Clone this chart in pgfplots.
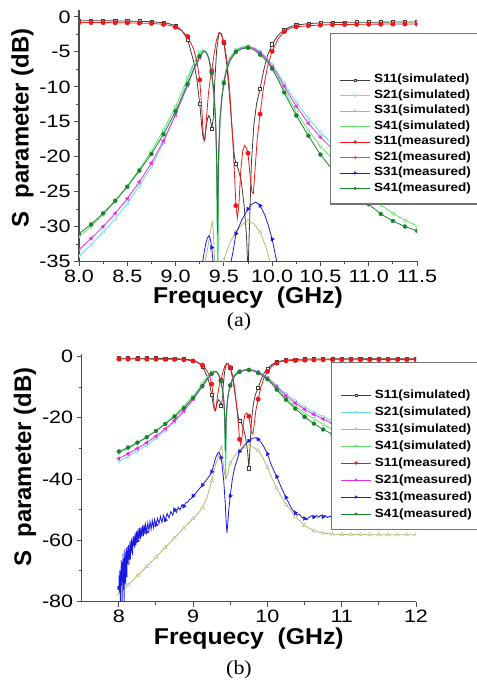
\documentclass[border=0pt]{standalone}
\usepackage{fontspec}
\setmainfont{Liberation Sans}
\newfontfamily\tickff{Liberation Sans}[FakeStretch=1.2]
\newfontfamily\labff{Liberation Sans}[FakeStretch=1.08]
\newfontfamily\legff{Liberation Sans}[FakeStretch=1.13]
\newfontfamily\capff{Liberation Serif}[FakeStretch=1.1]
\usepackage{pgfplots}
\usepackage{pgfplotstable}
\pgfplotsset{compat=1.18}

\definecolor{cAs}{RGB}{60,60,60}
\definecolor{cBs}{RGB}{100,220,235}
\definecolor{cCs}{RGB}{185,180,115}
\definecolor{cDs}{RGB}{95,225,105}
\definecolor{cAm}{RGB}{235,25,25}
\definecolor{cBm}{RGB}{230,45,230}
\definecolor{cCm}{RGB}{25,25,230}
\definecolor{cDm}{RGB}{25,130,45}

% S11 simulated
\pgfplotstableread{
x y m
8.000 -0.55 1
8.125 -0.55 1
8.250 -0.55 1
8.375 -0.56 1
8.500 -0.58 1
8.625 -0.62 1
8.750 -0.68 1
8.875 -0.82 1
8.9375 -0.98 0
9.000 -1.25 1
9.0625 -1.90 0
9.125 -3.20 1
9.1875 -6.4 0
9.220 -8.9 0
9.250 -12.4 1
9.270 -15.5 0
9.285 -17.3 0
9.300 -17.5 0
9.315 -16.0 0
9.330 -14.6 0
9.345 -14.1 0
9.360 -14.6 0
9.375 -16.0 1
9.390 -14.5 0
9.405 -9.5 0
9.425 -4.8 0
9.450 -2.2 0
9.475 -2.4 0
9.500 -3.7 1
9.530 -6.8 0
9.560 -11.5 0
9.590 -17.0 0
9.610 -20.0 0
9.625 -21.0 1
9.650 -21.8 0
9.680 -23.5 0
9.710 -27.0 0
9.735 -31.5 0
9.750 -36.5 1
9.765 -30.0 0
9.785 -21.0 0
9.810 -15.5 0
9.840 -12.3 0
9.875 -10.3 1
9.910 -7.8 0
9.950 -5.6 0
10.000 -3.9 1
10.0625 -2.6 0
10.125 -1.85 1
10.1875 -1.40 0
10.250 -1.15 1
10.375 -0.95 1
10.500 -0.85 1
10.625 -0.80 1
10.750 -0.77 1
10.875 -0.76 1
11.000 -0.75 1
11.125 -0.74 1
11.250 -0.73 1
11.375 -0.73 1
11.500 -0.72 1
11.625 -0.72 1
11.750 -0.72 1
11.875 -0.72 1
12.000 -0.72 1
}\tAs

% S21 simulated
\pgfplotstableread{
x y m
8.000 -34.2 1
8.125 -32.6 1
8.250 -30.8 1
8.375 -28.9 1
8.500 -26.7 1
8.625 -24.2 1
8.750 -21.4 1
8.875 -18.0 1
9.000 -13.8 1
9.0625 -11.4 0
9.125 -9.0 1
9.1875 -6.8 0
9.250 -5.2 1
9.280 -4.8 0
9.310 -4.9 0
9.340 -5.7 0
9.375 -8.2 1
9.400 -11.8 0
9.415 -16 0
9.425 -21 0
9.437 -40 0
9.447 -21 0
9.460 -15 0
9.480 -11.5 0
9.500 -9.2 1
9.530 -7.0 0
9.5625 -5.8 0
9.625 -4.7 1
9.6875 -4.3 0
9.750 -4.2 1
9.8125 -4.4 0
9.875 -4.9 1
9.9375 -5.7 0
10.000 -6.8 1
10.0625 -8.1 0
10.125 -9.5 1
10.1875 -10.9 0
10.250 -12.2 1
10.375 -14.5 1
10.500 -16.5 1
10.625 -18.2 1
10.750 -19.7 1
10.875 -21.0 1
11.000 -22.2 1
11.125 -23.2 1
11.250 -24.1 1
11.375 -24.9 1
11.500 -25.6 1
11.625 -26.2 1
11.750 -26.8 1
11.875 -27.3 1
12.000 -27.8 1
}\tBs

% S31 simulated
\pgfplotstableread{
x y m
8.000 -77.5 1
8.125 -74.6 1
8.250 -71.6 1
8.375 -68.6 1
8.500 -65.5 1
8.625 -62.4 1
8.750 -59.2 1
8.875 -56.0 1
9.000 -52.9 1
9.0625 -51.4 0
9.125 -49.4 1
9.1875 -46.0 0
9.250 -40.5 1
9.300 -35.5 0
9.340 -32.5 0
9.365 -30.3 0
9.380 -29.3 0
9.390 -30.5 0
9.405 -35.0 0
9.425 -38.5 0
9.445 -39.8 0
9.465 -38.5 0
9.490 -35.5 0
9.500 -34.8 1
9.5625 -32.3 0
9.625 -30.8 1
9.6875 -29.7 0
9.750 -29.2 1
9.8125 -29.6 0
9.875 -30.8 1
9.9375 -33.0 0
10.000 -36.2 1
10.0625 -39.7 0
10.125 -43.0 1
10.1875 -45.8 0
10.250 -48.3 1
10.375 -52.2 1
10.500 -55.2 1
10.625 -56.9 1
10.750 -57.7 1
10.875 -58.0 1
11.000 -58.1 1
11.125 -58.1 1
11.250 -58.1 1
11.375 -58.2 1
11.500 -58.2 1
11.625 -58.2 1
11.750 -58.2 1
11.875 -58.2 1
12.000 -58.2 1
}\tCs

% S41 simulated
\pgfplotstableread{
x y m
8.000 -31.4 1
8.125 -30.0 1
8.250 -28.3 1
8.375 -26.4 1
8.500 -24.2 1
8.625 -21.8 1
8.750 -19.2 1
8.875 -16.2 1
9.000 -12.8 1
9.0625 -10.8 0
9.125 -8.7 1
9.1875 -6.6 0
9.250 -5.0 1
9.280 -4.7 0
9.310 -4.85 0
9.340 -5.6 0
9.375 -8.4 1
9.400 -12.0 0
9.415 -16 0
9.425 -21 0
9.437 -40 0
9.447 -21 0
9.460 -15 0
9.480 -11.5 0
9.500 -9.2 1
9.530 -7.0 0
9.5625 -5.8 0
9.625 -4.7 1
9.6875 -4.3 0
9.750 -4.2 1
9.8125 -4.5 0
9.875 -5.2 1
9.9375 -6.1 0
10.000 -7.3 1
10.0625 -8.8 0
10.125 -10.4 1
10.1875 -12.0 0
10.250 -13.6 1
10.375 -16.2 1
10.500 -18.5 1
10.625 -20.3 1
10.750 -22.1 1
10.875 -23.8 1
11.000 -25.4 1
11.125 -26.9 1
11.250 -28.1 1
11.375 -29.1 1
11.500 -29.9 1
11.625 -30.5 1
11.750 -31.0 1
11.875 -31.4 1
12.000 -31.8 1
}\tDs

% S11 measured
\pgfplotstableread{
x y m
8.000 -0.80 1
8.125 -0.80 1
8.250 -0.80 1
8.375 -0.82 1
8.500 -0.84 1
8.625 -0.87 1
8.750 -0.92 1
8.875 -1.05 1
8.9375 -1.20 0
9.000 -1.45 1
9.0625 -1.95 0
9.125 -2.80 1
9.1875 -4.60 0
9.220 -6.30 0
9.250 -9.00 1
9.270 -12.8 0
9.285 -16.5 0
9.295 -17.8 0
9.305 -17.5 0
9.320 -14.5 0
9.340 -11.0 0
9.360 -8.8 0
9.375 -7.7 1
9.400 -5.2 0
9.425 -3.2 0
9.450 -2.3 0
9.470 -2.4 0
9.500 -3.6 1
9.530 -6.0 0
9.560 -10.5 0
9.590 -17.0 0
9.610 -22.5 0
9.625 -27.0 1
9.640 -28.8 0
9.655 -27.0 0
9.675 -22.0 0
9.695 -19.2 0
9.715 -18.4 0
9.735 -18.8 0
9.750 -19.5 1
9.770 -22.5 0
9.790 -25.0 0
9.805 -25.3 0
9.820 -22.5 0
9.845 -17.5 0
9.875 -13.9 1
9.910 -10.2 0
9.950 -7.2 0
10.000 -4.9 1
10.0625 -3.1 0
10.125 -2.1 1
10.1875 -1.6 0
10.250 -1.40 1
10.375 -1.25 1
10.500 -1.15 1
10.625 -1.10 1
10.750 -1.07 1
10.875 -1.05 1
11.000 -1.03 1
11.125 -1.02 1
11.250 -1.01 1
11.375 -1.00 1
11.500 -1.00 1
11.625 -1.00 1
11.750 -1.00 1
11.875 -1.00 1
12.000 -1.00 1
}\tAm

% S21 measured
\pgfplotstableread{
x y m
8.000 -33.3 1
8.125 -31.7 1
8.250 -30.0 1
8.375 -28.1 1
8.500 -26.0 1
8.625 -23.6 1
8.750 -20.9 1
8.875 -17.7 1
9.000 -14.0 1
9.0625 -11.9 0
9.125 -9.8 1
9.1875 -7.6 0
9.250 -5.8 1
9.280 -5.1 0
9.300 -4.95 0
9.320 -5.1 0
9.345 -6.0 0
9.375 -7.9 1
9.400 -11.0 0
9.415 -14.5 0
9.425 -19.0 0
9.435 -28.0 0
9.445 -19.5 0
9.460 -14.5 0
9.480 -11.3 0
9.500 -9.3 1
9.530 -7.4 0
9.5625 -6.1 0
9.625 -4.9 1
9.6875 -4.45 0
9.750 -4.3 1
9.8125 -4.5 0
9.875 -5.1 1
9.9375 -5.9 0
10.000 -7.1 1
10.0625 -8.4 0
10.125 -9.9 1
10.1875 -11.4 0
10.250 -12.8 1
10.375 -15.2 1
10.500 -17.2 1
10.625 -18.9 1
10.750 -20.4 1
10.875 -21.8 1
11.000 -23.0 1
11.125 -24.0 1
11.250 -24.9 1
11.375 -25.7 1
11.500 -26.4 1
11.625 -27.0 1
11.750 -27.6 1
11.875 -28.1 1
12.000 -28.6 1
}\tBm

% S31 measured
\pgfplotstableread{
x y m
8.000 -75.6 1
8.004 -71.5 0
8.008 -77.0 0
8.012 -69.8 0
8.016 -73.5 0
8.020 -81.0 0
8.024 -70.2 0
8.028 -74.8 0
8.032 -66.5 0
8.036 -72.0 0
8.040 -68.3 0
8.044 -81.0 0
8.048 -67.0 0
8.052 -73.8 0
8.056 -64.2 0
8.060 -70.5 0
8.064 -76.0 0
8.068 -66.0 0
8.072 -81.0 0
8.076 -68.5 0
8.080 -63.0 0
8.084 -71.0 0
8.088 -65.5 0
8.092 -74.5 0
8.096 -63.8 0
8.100 -69.0 0
8.104 -62.5 0
8.108 -72.0 0
8.112 -64.0 0
8.116 -67.8 0
8.120 -62.0 0
8.125 -66.0 1
8.130 -61.5 0
8.135 -68.0 0
8.140 -62.8 0
8.145 -65.5 0
8.150 -60.2 0
8.155 -66.2 0
8.160 -61.0 0
8.165 -64.0 0
8.170 -59.5 0
8.175 -63.5 0
8.180 -60.5 0
8.185 -64.8 0
8.190 -59.0 0
8.195 -62.0 0
8.200 -58.6 0
8.205 -61.8 0
8.210 -59.2 0
8.215 -62.5 0
8.220 -57.5 0
8.230 -61.5 0
8.240 -57.0 0
8.250 -60.2 1
8.260 -56.2 0
8.270 -59.8 0
8.280 -56.0 0
8.290 -59.5 0
8.300 -55.8 0
8.310 -58.8 0
8.320 -55.2 0
8.330 -58.6 0
8.340 -54.9 0
8.350 -58.0 0
8.360 -54.8 0
8.375 -57.3 1
8.390 -54.3 0
8.405 -56.9 0
8.420 -53.8 0
8.435 -56.4 0
8.450 -53.6 0
8.465 -55.9 0
8.480 -53.2 0
8.500 -55.0 1
8.520 -52.8 0
8.540 -54.6 0
8.560 -52.2 0
8.580 -54.2 0
8.600 -51.8 0
8.625 -53.4 1
8.650 -51.2 0
8.675 -52.7 0
8.700 -50.6 0
8.725 -51.8 0
8.750 -50.0 1
8.775 -50.9 0
8.800 -49.2 0
8.825 -50.0 0
8.850 -48.4 0
8.875 -48.9 1
8.900 -47.8 0
8.925 -47.6 0
8.950 -46.7 0
8.975 -46.4 0
9.000 -45.5 1
9.025 -44.9 0
9.050 -44.2 0
9.075 -43.4 0
9.100 -42.7 0
9.125 -42.0 1
9.150 -41.2 0
9.175 -40.4 0
9.200 -39.6 0
9.225 -38.8 0
9.250 -37.6 1
9.270 -36.0 0
9.290 -34.2 0
9.310 -32.6 0
9.330 -31.6 0
9.346 -31.3 0
9.360 -31.8 0
9.375 -33.0 1
9.390 -35.5 0
9.410 -40.0 0
9.430 -47.0 0
9.445 -54.0 0
9.455 -57.6 0
9.465 -55.0 0
9.480 -50.0 0
9.500 -45.5 1
9.525 -40.5 0
9.550 -37.3 0
9.575 -35.0 0
9.600 -33.2 0
9.625 -31.0 1
9.6875 -29.0 0
9.750 -27.5 1
9.790 -26.8 0
9.830 -26.5 0
9.875 -27.0 1
9.920 -28.2 0
9.960 -29.8 0
10.000 -31.8 1
10.040 -34.5 0
10.0625 -36.0 0
10.125 -39.2 1
10.1875 -42.8 0
10.250 -46.0 1
10.300 -48.5 0
10.340 -50.2 0
10.375 -51.0 1
10.400 -51.8 0
10.430 -51.5 0
10.460 -52.4 0
10.500 -52.9 1
10.530 -53.3 0
10.560 -52.5 0
10.590 -52.0 0
10.625 -52.4 1
10.660 -51.9 0
10.690 -52.5 0
10.720 -51.8 0
10.750 -52.3 1
10.780 -51.9 0
10.810 -52.6 0
10.840 -52.1 0
10.875 -52.6 1
10.910 -52.2 0
10.940 -52.8 0
11.000 -52.4 1
11.125 -52.6 1
11.250 -52.3 1
11.375 -52.7 1
11.500 -52.5 1
11.625 -52.8 1
11.750 -52.5 1
11.875 -52.9 1
12.000 -52.6 1
}\tCm

% S41 measured
\pgfplotstableread{
x y m
8.000 -31.0 1
8.125 -29.7 1
8.250 -28.1 1
8.375 -26.3 1
8.500 -24.3 1
8.625 -22.0 1
8.750 -19.6 1
8.875 -16.8 1
9.000 -13.5 1
9.0625 -11.6 0
9.125 -9.6 1
9.1875 -7.4 0
9.250 -5.6 1
9.280 -5.0 0
9.300 -4.9 0
9.320 -5.1 0
9.345 -6.0 0
9.375 -8.0 1
9.400 -11.5 0
9.415 -15.0 0
9.425 -20.0 0
9.435 -31.0 0
9.445 -20.0 0
9.460 -14.5 0
9.480 -11.5 0
9.500 -9.5 1
9.530 -7.6 0
9.5625 -6.3 0
9.625 -5.0 1
9.6875 -4.55 0
9.750 -4.4 1
9.8125 -4.7 0
9.875 -5.4 1
9.9375 -6.2 0
10.000 -7.4 1
10.0625 -9.0 0
10.125 -10.8 1
10.1875 -12.5 0
10.250 -14.1 1
10.375 -17.0 1
10.500 -19.7 1
10.625 -21.9 1
10.750 -23.8 1
10.875 -25.3 1
11.000 -26.8 1
11.125 -28.2 1
11.250 -29.2 1
11.375 -30.0 1
11.500 -30.6 1
11.625 -31.1 1
11.750 -31.6 1
11.875 -32.0 1
12.000 -32.4 1
}\tDm

\pgfplotsset{
  lAs/.style={color=cAs, line width=0.8pt},
  lBs/.style={color=cBs, line width=0.8pt},
  lCs/.style={color=cCs, line width=0.8pt},
  lDs/.style={color=cDs, line width=0.8pt},
  lAm/.style={color=cAm, line width=0.8pt},
  lBm/.style={color=cBm, line width=0.8pt},
  lCm/.style={color=cCm, line width=0.8pt},
  lDm/.style={color=cDm, line width=0.8pt},
  mAs/.style={mark=square*, mark size=1.6pt, mark options={fill=white, line width=0.5pt}},
  mBs/.style={mark=*, mark size=1.7pt, mark options={fill=white, line width=0.5pt}},
  mCs/.style={mark=triangle*, mark size=2.0pt, mark options={fill=white, line width=0.5pt}},
  mDs/.style={mark=triangle*, mark size=2.0pt, mark options={fill=white, rotate=180, line width=0.5pt}},
  mAm/.style={mark=*, mark size=2.3pt, mark options={fill=cAm, line width=0.3pt}},
  mBm/.style={mark=triangle*, mark size=2.2pt, mark options={fill=cBm, rotate=90, line width=0.3pt}},
  mCm/.style={mark=triangle*, mark size=2.3pt, mark options={fill=cCm, rotate=-90, line width=0.3pt}},
  mDm/.style={mark=*, mark size=2.0pt, mark options={fill=cDm, line width=0.3pt}},
  common/.style={
    scale only axis,
    axis x line*=bottom, axis y line*=left,
    axis line style={line width=1.1pt, color=black!70},
    tick align=outside,
    major tick length=5bp, minor tick length=3bp,
    every tick/.style={line width=1pt, color=black!70},
    tick label style={font=\tickff\fontsize{18}{18}\selectfont},
    /pgf/number format/assume math mode=true,
    clip marker paths=true,
    xlabel style={font=\labff\bfseries\fontsize{23}{23}\selectfont},
    ylabel style={font=\bfseries\fontsize{24}{24}\selectfont},
    legend cell align=left,
    legend image code/.code={\draw[mark repeat=2, mark phase=2, ##1] plot coordinates {(0bp,0bp) (15bp,0bp) (30bp,0bp)};},
    legend style={anchor=north west, draw=black!55, line width=1.2pt, fill=white,
      font=\legff\bfseries\fontsize{12}{12}\selectfont,
      inner xsep=9bp, inner ysep=9bp, column sep=3bp,
      nodes={inner sep=0.5bp, text height=9bp, text depth=3bp}},
  },
}

\newcommand\drawseries[3]{%
  \addplot[#2, no marks, forget plot] table[x=x, y=y] {#1};
  \addplot[#2, #3, only marks, forget plot, restrict y to domain=-500:100]
     table[x=x, y expr={\thisrow{y}-10000*(1-\thisrow{m})}] {#1};
}
\newcommand\allseries{%
  \drawseries{\tAs}{lAs}{mAs}
  \drawseries{\tBs}{lBs}{mBs}
  \drawseries{\tCs}{lCs}{mCs}
  \drawseries{\tDs}{lDs}{mDs}
  \drawseries{\tAm}{lAm}{mAm}
  \drawseries{\tBm}{lBm}{mBm}
  \drawseries{\tCm}{lCm}{mCm}
  \drawseries{\tDm}{lDm}{mDm}
}
\newcommand\legentries{%
  \addlegendimage{lAs, mAs, mark size=1.2pt}\addlegendentry{S11(simulated)}
  \addlegendimage{lBs, mBs, mark size=1.2pt}\addlegendentry{S21(simulated)}
  \addlegendimage{lCs, mCs, mark size=1.4pt}\addlegendentry{S31(simulated)}
  \addlegendimage{lDs, mDs, mark size=1.4pt}\addlegendentry{S41(simulated)}
  \addlegendimage{lAm, mAm, mark size=1.5pt}\addlegendentry{S11(measured)}
  \addlegendimage{lBm, mBm, mark size=1.5pt}\addlegendentry{S21(measured)}
  \addlegendimage{lCm, mCm, mark size=1.5pt}\addlegendentry{S31(measured)}
  \addlegendimage{lDm, mDm, mark size=1.4pt}\addlegendentry{S41(measured)}
}

\begin{document}
\begin{tikzpicture}
% ---------------- (a) ----------------
\begin{axis}[common,
  at={(79bp,421.5bp)}, anchor=south west,
  width=338bp, height=251.5bp,
  xmin=8, xmax=11.5, ymin=-35, ymax=1,
  xtick={8,8.5,...,11.5}, minor x tick num=1,
  ytick={-35,-30,...,0}, minor y tick num=1,
  xticklabel style={/pgf/number format/.cd, fixed, fixed zerofill, precision=1},
  xlabel={Frequecy\ \ (GHz)}, ylabel={S\ \ parameter (dB)},
  xlabel style={at={(axis description cs:0.5,-0.169)}, anchor=base},
  ylabel style={at={(axis description cs:-0.167,0.531)}, anchor=center},
  legend style={at={(axis description cs:0.743,0.909)}, row sep=2.5bp},
]
\addlegendimage{empty legend}\addlegendentry{}
\addlegendimage{empty legend}\addlegendentry{}
\legentries
\allseries
\end{axis}
% ---------------- (b) ----------------
\begin{axis}[common,
  at={(81.7bp,81.5bp)}, anchor=south west,
  width=334.3bp, height=248bp,
  xmin=7.5, xmax=12, ymin=-80, ymax=1,
  xtick={8,9,...,12}, minor x tick num=1,
  ytick={-80,-60,...,0}, minor y tick num=1,
  xlabel={Frequecy\ \ (GHz)}, ylabel={S\ \ parameter (dB)},
  xlabel style={at={(axis description cs:0.5,-0.175)}, anchor=base},
  ylabel style={at={(axis description cs:-0.170,0.542)}, anchor=center},
  legend style={at={(axis description cs:0.746,0.966)}, row sep=4bp},
]
\addlegendimage{empty legend}\addlegendentry{}
\legentries
\allseries
\end{axis}
\node[font=\capff\fontsize{20}{20}\selectfont] at (239bp,361bp) {(a)};
\node[font=\capff\fontsize{20}{20}\selectfont] at (239bp,13bp) {(b)};
\pgfresetboundingbox
\path[use as bounding box] (0,0) rectangle (477bp,683bp);
\end{tikzpicture}
\end{document}
